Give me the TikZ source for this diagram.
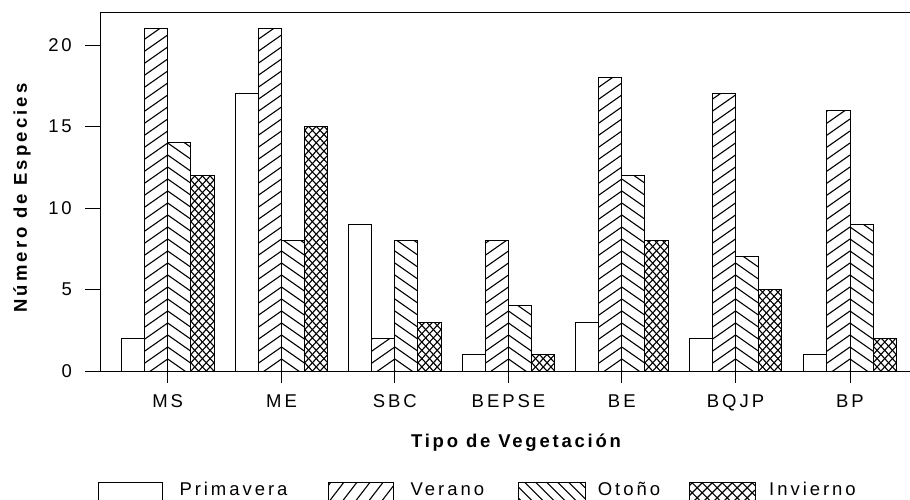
\documentclass[tikz,border=0pt]{standalone}
\usepackage{fontspec}
\setmainfont{Liberation Sans}
\newfontfamily\lblfont[LetterSpace=16]{Liberation Sans}
\newfontfamily\ttlfont[LetterSpace=15]{Liberation Sans}
\newfontfamily\yttlfont[LetterSpace=17]{Liberation Sans}
\tikzset{
  barline/.style={draw=black, line width=1pt},
  hatchline/.style={draw=black, line width=1.1pt},
  axisline/.style={draw=black, line width=1pt},
  lbl/.style={font=\lblfont\fontsize{18.5}{21}\selectfont, inner sep=0pt},
  ttl/.style={font=\ttlfont\bfseries\fontsize{18.5}{21}\selectfont, inner sep=0pt},
  yttl/.style={font=\yttlfont\bfseries\fontsize{18.5}{21}\selectfont, inner sep=0pt},
}
% #1 x0  #2 x1  #3 ytop  #4 ybot  #5 dir (1 rising, -1 falling)  #6 vertical spacing  #7 slope
\newcommand\hatchlines[7]{%
  \begin{scope}
    \clip (#1,#3) rectangle (#2,#4);
    \pgfmathsetmacro\hw{((#2)-(#1))*(#7)}
    \pgfmathtruncatemacro\hn{((#4)-(#3)+\hw)/(#6)+1}
    \foreach \k in {0,...,\hn}{
      \pgfmathsetmacro\yl{(#4)+\hw*max(#5,0)-\k*(#6)}
      \pgfmathsetmacro\yr{\yl-(#5)*\hw}
      \draw[hatchline] (#1,\yl) -- (#2,\yr);
    }
  \end{scope}}
\begin{document}
\begin{tikzpicture}[x=1pt,y=-1pt]
\useasboundingbox (0,0) rectangle (910,499);
\clip (0,0) rectangle (910,499);
% bars
\foreach \c/\a/\b/\d/\e/\name/\i in {167.7/2/21/14/12/MS/1, 281.5/17/21/8/15/ME/2, 394.8/9/2/8/3/SBC/3, 508.5/1/8/4/1/BEPSE/4, 621.8/3/18/12/8/BE/5, 735.5/2/17/7/5/BQJP/6, 850/1/16/9/2/BP/7}{
  \pgfmathsetmacro\xa{\c-46.3}
  \pgfmathsetmacro\xb{\c-23.15}
  \pgfmathsetmacro\xd{\c+23.15}
  \pgfmathsetmacro\xe{\c+46.3}
  \pgfmathsetmacro\ya{371-16.3*\a}
  \pgfmathsetmacro\yb{371-16.3*\b}
  \pgfmathsetmacro\yd{371-16.3*\d}
  \pgfmathsetmacro\ye{371-16.3*\e}
  \hatchlines{\xb}{\c}{\yb}{371}{1}{12}{0.7}
  \hatchlines{\c}{\xd}{\yd}{371}{-1}{12}{0.7}
  \hatchlines{\xd}{\xe}{\ye}{371}{1}{8.3}{1.08}
  \hatchlines{\xd}{\xe}{\ye}{371}{-1}{8.3}{1.08}
  \draw[barline] (\xa,371) rectangle (\xb,\ya);
  \draw[barline] (\xb,371) rectangle (\c,\yb);
  \draw[barline] (\c,371) rectangle (\xd,\yd);
  \draw[barline] (\xd,371) rectangle (\xe,\ye);
  \draw[axisline] (\c,371) -- (\c,383);
  \node[lbl, anchor=base] (xl\i) at (\c,407) {\name};
}
% axes
\coordinate (o) at (100,371);
\coordinate (tl) at (100,12);
\coordinate (tr) at (910,12);
\coordinate (br) at (910,371);
\draw[axisline] (br) -- (o) -- (tl) -- (tr);
\foreach \v in {0,5,10,15,20}{
  \draw[axisline] (85,{371-16.3*\v}) -- (100,{371-16.3*\v});
  \node[lbl, anchor=east] (yl\v) at (72,{371-16.3*\v}) {\v};
}
% titles
\node[ttl, anchor=base] (xt) at (516,447) {Tipo de Vegetación};
\node[yttl, rotate=90, anchor=base] (yt) at (27,198) {Número de Especies};
% legend
\draw[barline] (98.3,482) rectangle (162.7,520);
\node[lbl, anchor=base west] (l1) at (179.3,495) {Primavera};
\hatchlines{328.3}{393.3}{482}{520}{1}{17}{1.3}
\draw[barline] (328.3,482) rectangle (393.3,520);
\node[lbl, anchor=base west] (l2) at (410.5,495) {Verano};
\hatchlines{518.3}{585}{482}{520}{-1}{11}{1}
\draw[barline] (518.3,482) rectangle (585,520);
\node[lbl, anchor=base west] (l3) at (597.7,495) {Otoño};
\hatchlines{689.3}{755}{482}{520}{1}{10}{1}
\hatchlines{689.3}{755}{482}{520}{-1}{10}{1}
\draw[barline] (689.3,482) rectangle (755,520);
\node[lbl, anchor=base west] (l4) at (769,495) {Invierno};
\end{tikzpicture}
\end{document}
